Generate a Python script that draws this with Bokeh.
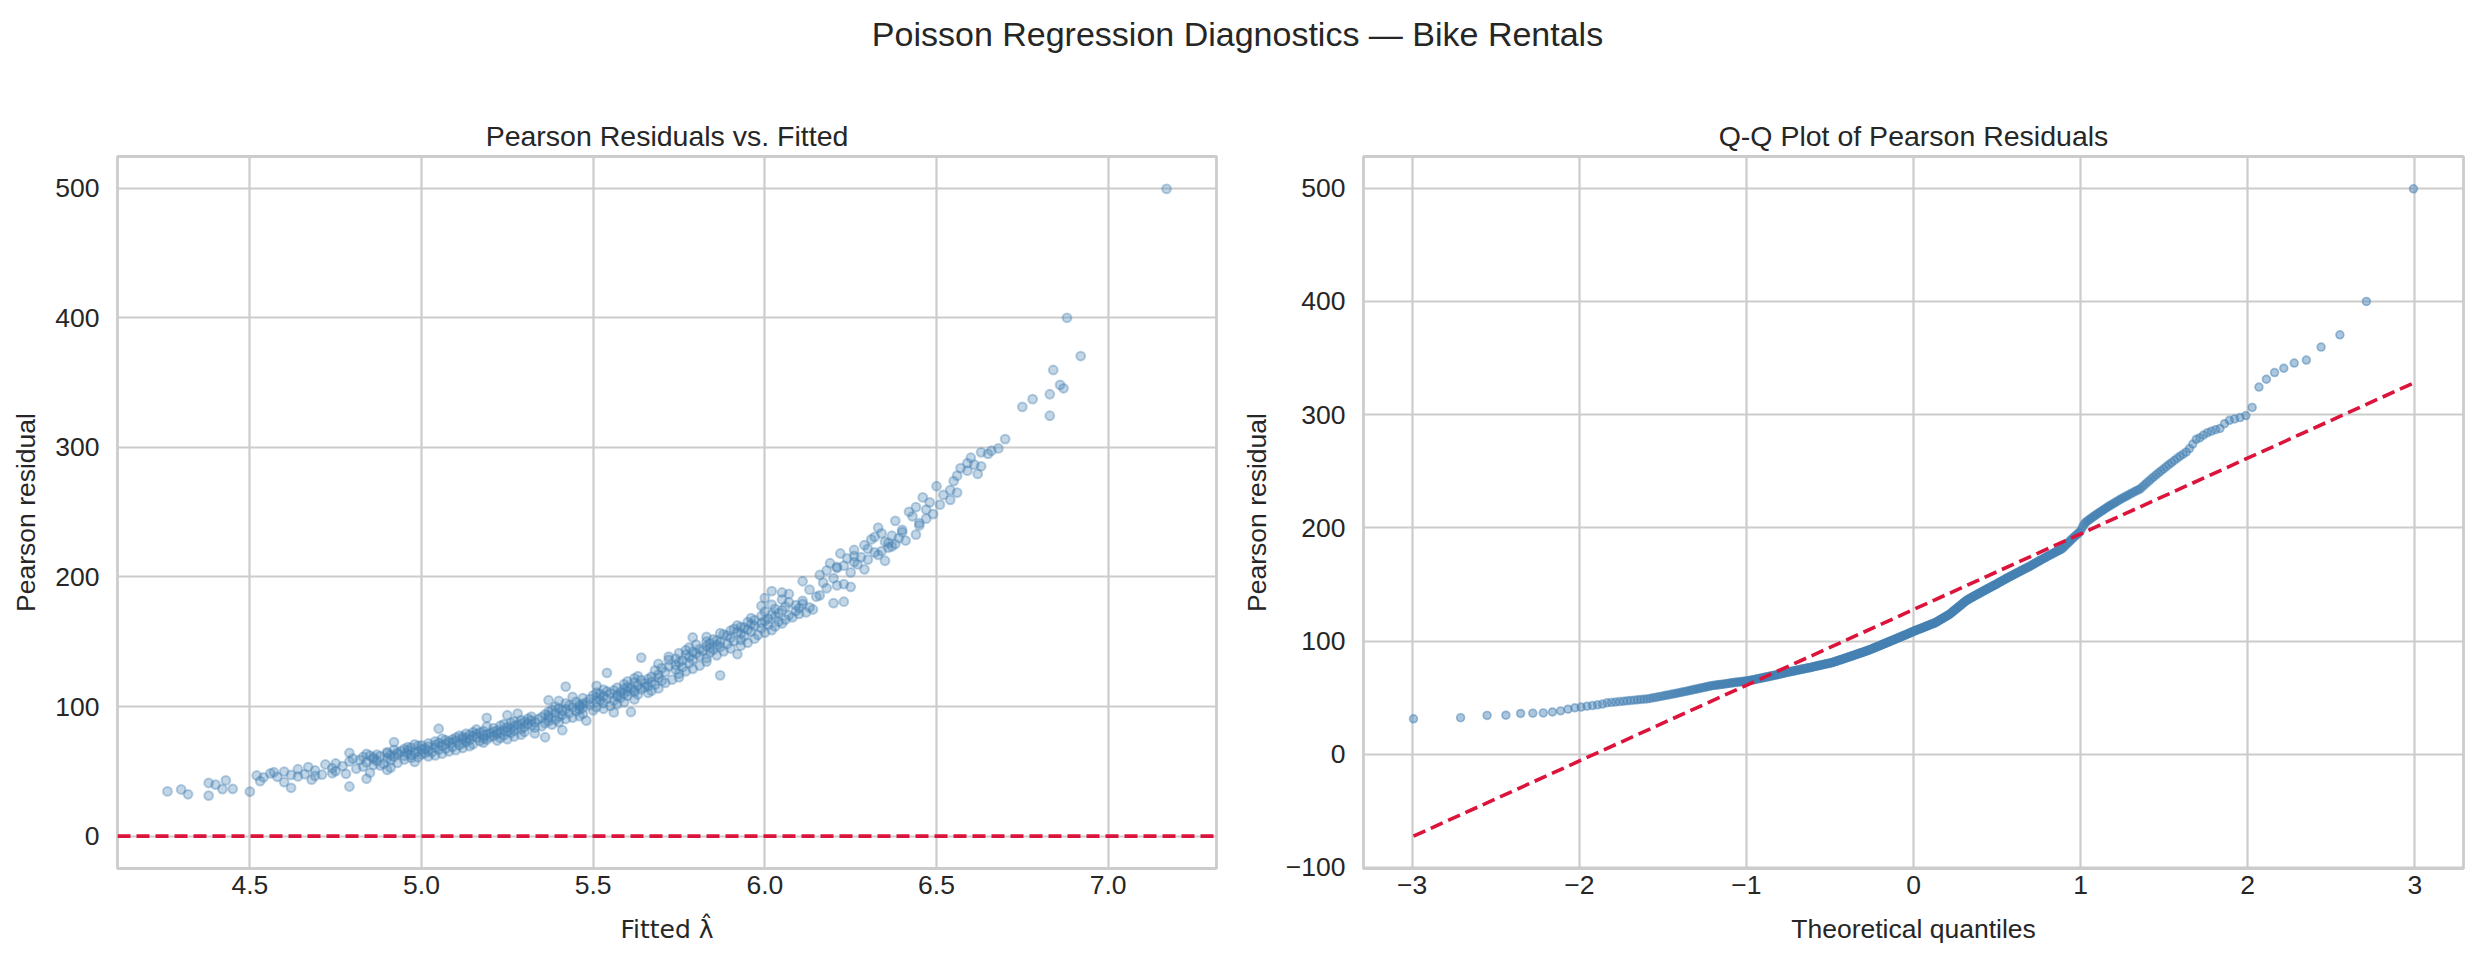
from statistics import NormalDist

from bokeh.plotting import figure
from bokeh.layouts import column, row
from bokeh.models import (Range1d, SingleIntervalTicker, NumeralTickFormatter,
                          CustomJSTickFormatter, Span)
from bokeh.embed import file_html
from bokeh.resources import INLINE

# ---------------------------------------------------------------- data
# Pearson residuals (sorted ascending)
residual = [
    31.3, 32.3, 34.3, 34.5, 36.0, 36.3, 36.5, 37.3, 38.3, 39.8, 41.0, 41.7, 42.4,
    43.0, 43.6, 44.3, 45.4, 45.8, 46.1, 46.5, 46.8, 47.2, 47.5, 47.8, 48.1, 48.4, 48.6, 48.9,
    49.3, 49.8, 50.2, 50.7, 51.1, 51.6, 52.0, 52.4, 52.9, 53.3, 53.7, 54.1, 54.5,
    54.9, 55.3, 55.7, 56.1, 56.5, 56.9, 57.3, 57.6, 58.0, 58.4, 58.8, 59.1, 59.5, 59.8, 60.2, 60.5,
    60.7, 60.9, 61.1, 61.3, 61.5, 61.7, 61.9, 62.1, 62.3, 62.5, 62.7, 62.9, 63.1, 63.3, 63.5, 63.6,
    63.8, 63.9, 64.1, 64.2, 64.4, 64.5,
    64.7, 64.9, 65.2, 65.4, 65.6, 65.9, 66.1, 66.3, 66.6, 66.8, 67.0, 67.3, 67.5, 67.7, 68.0, 68.2,
    68.4, 68.7, 68.9, 69.1, 69.4, 69.6, 69.8, 70.1, 70.3, 70.5, 70.8, 71.0, 71.2, 71.5, 71.7, 71.9,
    72.2, 72.4, 72.6, 72.8, 73.0,
    73.2, 73.4, 73.6, 73.8, 74.0, 74.2, 74.4, 74.6, 74.8, 75.0, 75.2, 75.4, 75.6, 75.8, 76.0, 76.1,
    76.3, 76.5, 76.7, 76.9, 77.1, 77.3, 77.5, 77.7, 77.9, 78.1, 78.3, 78.5, 78.7, 78.9, 79.1, 79.3,
    79.5, 79.7, 79.9, 80.0, 80.2, 80.4, 80.6, 80.7,
    81.0, 81.3, 81.5, 81.8, 82.1, 82.3, 82.6, 82.9, 83.2, 83.4, 83.7, 84.0, 84.2, 84.5, 84.8, 85.0,
    85.3, 85.6, 85.9, 86.1, 86.4, 86.7, 86.9, 87.2, 87.5, 87.7, 88.0, 88.3, 88.6, 88.8, 89.1, 89.4,
    89.6, 89.9, 90.2, 90.4, 90.7, 91.0, 91.3, 91.5, 91.8, 92.1, 92.3, 92.6, 93.0,
    93.3, 93.6, 94.0, 94.3, 94.6, 94.9, 95.2, 95.5, 95.8, 96.1, 96.4, 96.8, 97.1, 97.4, 97.7, 98.0,
    98.3, 98.6, 98.9, 99.3, 99.6, 99.9, 100.2, 100.5, 100.8, 101.1, 101.4, 101.8, 102.1, 102.4,
    102.7, 103.0, 103.3, 103.6, 103.9, 104.3, 104.6, 104.9, 105.2, 105.5, 105.8, 106.1, 106.5,
    106.8, 107.1, 107.4, 107.7, 108.0, 108.4,
    108.7, 109.0, 109.3, 109.6, 109.9, 110.2, 110.5, 110.7, 111.0, 111.3, 111.6, 111.9, 112.2,
    112.5, 112.8, 113.1, 113.4, 113.7, 114.0, 114.3, 114.6, 114.9, 115.2, 115.4, 115.7, 116.0,
    116.4, 116.9, 117.3, 117.8, 118.2, 118.6, 119.1, 119.5, 120.0, 120.4, 120.8, 121.3, 121.7,
    122.2, 122.6, 123.1, 123.5,
    124.1, 124.7, 125.4, 126.0, 126.6, 127.2, 127.9, 128.5, 129.1, 129.7, 130.4, 131.0, 131.6,
    132.2, 132.9, 133.5, 134.1, 134.7, 135.4, 136.0,
    136.4, 136.9, 137.3, 137.8, 138.2, 138.6, 139.1, 139.5, 140.0, 140.4, 140.8, 141.3, 141.7,
    142.1, 142.6, 143.0, 143.5, 143.9, 144.3, 144.8, 145.2, 145.7, 146.1, 146.5, 147.0, 147.4,
    147.8, 148.3, 148.7, 149.2, 149.6, 150.0, 150.5, 151.0,
    151.5, 151.9, 152.4, 152.9, 153.3, 153.8, 154.3, 154.8, 155.2, 155.7, 156.2, 156.6, 157.1,
    157.6, 158.0, 158.5, 159.0, 159.4, 159.9, 160.4, 160.8, 161.3, 161.8, 162.3, 162.7, 163.2,
    163.7, 164.1, 164.6, 165.1, 165.5, 166.0,
    166.6, 167.1, 167.7, 168.2, 168.8, 169.3, 169.9, 170.4, 171.0, 171.5, 172.1, 172.6, 173.2,
    173.7, 174.3, 174.9, 175.4, 176.0, 176.5, 177.1, 177.6, 178.2, 178.7, 179.3, 179.8, 180.4,
    180.9, 181.5,
    182.6, 183.7, 184.8, 185.8, 186.9, 188.0, 189.1, 190.2, 191.3, 192.4, 193.5, 194.5, 195.6, 196.7,
    199.0, 201.5, 203.5, 205.0,
    205.9, 206.9, 207.8, 208.7, 209.7, 210.6, 211.5, 212.5, 213.4, 214.3, 215.3, 216.2, 217.1,
    218.1, 219.0,
    219.9, 220.8, 221.7, 222.6, 223.6, 224.5, 225.4, 226.3, 227.2, 228.1, 229.0, 229.9, 230.9,
    231.8, 232.7, 233.6, 234.5,
    236.3, 238.0, 239.8, 241.5, 243.3, 245.0, 246.8, 248.5, 250.3, 252.0,
    253.9, 255.8, 257.6, 259.5, 261.4, 263.3, 265.1, 267.0,
    270.0, 274.0, 278.2, 279.5, 282.0, 284.0, 285.4, 286.7, 287.8, 292.0, 295.0, 296.2, 297.4, 299.2,
    306.4, 324.4, 331.3, 337.2, 341.0, 345.6, 348.2, 359.7, 370.5, 400.0, 499.5,
]

# Fitted lambda-hat for each residual above (same order)
fitted = [
    4.38, 4.32, 4.50, 4.26, 4.30, 4.42, 4.45, 4.62, 4.79, 4.40, 4.38, 4.60, 4.53,
    4.43, 4.68, 4.84, 4.54, 4.58, 4.64, 4.69, 4.52, 4.62, 4.71, 4.66, 4.78, 4.56, 4.74, 4.85,
    4.57, 4.60, 4.75, 4.69, 4.90, 4.64, 4.81, 4.74, 4.91, 4.67, 4.83, 4.77, 4.88,
    4.86, 4.72, 4.89, 4.75, 4.93, 4.84, 4.98, 4.79, 4.87, 4.91, 4.82, 4.95, 4.86, 4.80, 4.90, 4.97,
    4.86, 4.99, 4.83, 4.92, 5.02, 4.88, 4.95, 4.85, 5.04, 4.91, 4.97, 4.87, 5.00, 4.93, 4.84, 5.06,
    4.96, 4.90, 5.01, 4.79, 4.98, 4.93,
    5.03, 4.90, 4.99, 5.08, 4.94, 5.02, 4.96, 5.10, 4.92, 5.05, 5.00, 4.95, 5.07, 5.01, 5.12, 4.97,
    5.04, 4.96, 5.09, 5.02, 5.14, 4.99, 5.06, 5.00, 5.11, 5.04, 4.98, 5.15, 5.07, 5.02, 5.12, 5.05,
    5.18, 5.09, 4.92, 5.13, 5.08,
    5.04, 5.17, 5.10, 5.22, 5.07, 5.14, 5.19, 5.09, 5.25, 5.12, 5.06, 5.18, 5.13, 5.23, 5.10, 5.16,
    5.36, 5.20, 5.12, 5.27, 5.15, 5.21, 5.11, 5.18, 5.24, 5.14, 5.29, 5.19, 5.16, 5.22, 5.13, 5.33,
    5.20, 5.26, 5.17, 5.23, 5.15, 5.30, 5.21, 5.25,
    5.18, 5.27, 5.22, 5.41, 5.24, 5.16, 5.29, 5.05, 5.26, 5.21, 5.33, 5.25, 5.30, 5.19, 5.35, 5.27,
    5.23, 5.32, 5.28, 5.38, 5.24, 5.31, 5.29, 5.36, 5.26, 5.33, 5.40, 5.30, 5.27, 5.37, 5.48, 5.32,
    5.29, 5.39, 5.34, 5.42, 5.31, 5.37, 5.19, 5.44, 5.35, 5.40, 5.32, 5.46, 5.37,
    5.25, 5.41, 5.36, 5.47, 5.28, 5.43, 5.39, 5.56, 5.61, 5.37, 5.45, 5.41, 5.50, 5.38, 5.46, 5.42,
    5.53, 5.40, 5.47, 5.44, 5.51, 5.39, 5.46, 5.55, 5.43, 5.49, 5.46, 5.57, 5.47, 5.42,
    5.53, 5.48, 5.59, 5.45, 5.51, 5.40, 5.56, 5.37, 5.52, 5.62, 5.49, 5.54, 5.47,
    5.58, 5.51, 5.44, 5.57, 5.53, 5.60,
    5.50, 5.57, 5.63, 5.52, 5.59, 5.55, 5.66, 5.51, 5.58, 5.62, 5.54, 5.60, 5.67,
    5.56, 5.62, 5.53, 5.64, 5.59, 5.69, 5.61, 5.57, 5.65, 5.60, 5.42, 5.66, 5.51,
    5.63, 5.68, 5.59, 5.65, 5.71, 5.62, 5.67, 5.60, 5.70, 5.64, 5.73, 5.66, 5.62,
    5.69, 5.75, 5.67, 5.63,
    5.87, 5.69, 5.75, 5.54, 5.71, 5.77, 5.68, 5.74, 5.79, 5.70, 5.76, 5.72, 5.81,
    5.74, 5.69, 5.78, 5.75, 5.83, 5.76, 5.72,
    5.79, 5.74, 5.83, 5.64, 5.78, 5.72, 5.81, 5.86, 5.77, 5.92, 5.80, 5.75, 5.84,
    5.79, 5.88, 5.82, 5.77, 5.85, 5.81, 5.90, 5.84, 5.78, 5.87, 5.83, 5.93, 5.86,
    5.80, 5.89, 5.84, 5.95, 5.87, 5.83, 5.91, 5.86,
    5.93, 5.85, 5.97, 5.90, 5.79, 5.83, 5.94, 5.89, 5.98, 5.88, 5.93, 5.87, 6.00,
    5.92, 5.96, 5.90, 6.02, 5.95, 5.91, 5.99, 5.94, 5.93, 6.03, 5.97, 5.92, 6.01,
    5.96, 6.05, 5.99, 5.95, 6.04, 6.00,
    5.97, 6.06, 6.01, 5.96, 6.08, 6.03, 5.99, 6.07, 6.02, 6.10, 6.04, 6.12, 6.00,
    6.09, 6.05, 6.14, 6.03, 6.10, 6.13, 6.06, 5.99, 6.09, 6.02, 6.11, 6.20, 6.07,
    6.23, 6.11,
    6.05, 6.00, 6.15, 6.16, 6.07, 6.05, 6.02, 6.13, 6.18, 6.25, 6.21, 6.23, 6.17, 6.11,
    6.20, 6.16, 6.25, 6.18,
    6.29, 6.21, 6.21, 6.23, 6.27, 6.19, 6.26, 6.35, 6.30, 6.24, 6.28, 6.26, 6.33,
    6.22, 6.32,
    6.34, 6.26, 6.30, 6.36, 6.37, 6.29, 6.38, 6.36, 6.35, 6.41, 6.31, 6.39, 6.32,
    6.37, 6.44, 6.34, 6.40,
    6.40, 6.33, 6.45, 6.45, 6.38, 6.47, 6.43, 6.49, 6.42, 6.47,
    6.44, 6.51, 6.48, 6.54, 6.46, 6.52, 6.56, 6.54,
    6.50, 6.55, 6.56, 6.62, 6.59, 6.57, 6.63, 6.61, 6.59, 6.60, 6.65, 6.63, 6.66, 6.68,
    6.70, 6.83, 6.75, 6.78, 6.83, 6.87, 6.86, 6.84, 6.92, 6.88, 7.17,
]

zero_level = 0.0            # reference line of the left panel
qq_fit_slope = 66.9
qq_fit_intercept = 127.8

suptitle = "Poisson Regression Diagnostics \u2014 Bike Rentals"
left_title = "Pearson Residuals vs. Fitted"
right_title = "Q-Q Plot of Pearson Residuals"
left_xlabel = "Fitted \u03bb\u0302"
right_xlabel = "Theoretical quantiles"
ylabel = "Pearson residual"

# ---------------------------------------------------------------- derived
n = min(len(residual), len(fitted))
res = residual[:n]
fit = fitted[:n]

res_sorted = sorted(res)
mn = 0.5 ** (1.0 / n)
probs = [(i - 0.3175) / (n + 0.365) for i in range(1, n + 1)]
probs[0] = 1.0 - mn
probs[-1] = mn
nd = NormalDist()
theo = [nd.inv_cdf(pv) for pv in probs]
line_x = [theo[0], theo[-1]]
line_y = [qq_fit_slope * v + qq_fit_intercept for v in line_x]


def padded(lo, hi, frac=0.05):
    d = (hi - lo) * frac
    return Range1d(lo - d, hi + d)


# ---------------------------------------------------------------- style
FONT = "Liberation Sans"
INK = "#262626"
EDGE = "#cccccc"
BLUE = "#4682b4"
RED = "#dc143c"
TOTAL_W = 2474


def styled(title, xr, yr, xlabel, left_border, right_border, frame_w):
    p = figure(frame_width=frame_w, frame_height=712, x_range=xr, y_range=yr,
               toolbar_location=None, output_backend="svg",
               min_border_left=left_border, min_border_right=right_border,
               min_border_top=78, min_border_bottom=105)
    p.title.text = title
    p.title.align = "center"
    p.title.text_font = FONT
    p.title.text_font_size = "28.5px"
    p.title.text_font_style = "normal"
    p.title.text_color = INK
    p.title.standoff = 9
    p.background_fill_color = "white"
    p.border_fill_color = "white"
    p.outline_line_color = EDGE
    p.outline_line_width = 2.8
    for ax in p.axis:
        ax.axis_line_color = None
        ax.major_tick_line_color = None
        ax.minor_tick_line_color = None
        ax.major_tick_out = 0
        ax.major_tick_in = 0
        ax.minor_tick_out = 0
        ax.minor_tick_in = 0
        ax.major_label_text_font = FONT
        ax.major_label_text_font_size = "26.5px"
        ax.major_label_text_color = INK
        ax.axis_label_text_font = FONT
        ax.axis_label_text_font_size = "26.5px"
        ax.axis_label_text_font_style = "normal"
        ax.axis_label_text_color = INK
    p.xaxis.major_label_standoff = 7
    p.yaxis.major_label_standoff = 18
    p.yaxis.axis_label_standoff = 11
    p.xaxis.axis_label_standoff = 17
    p.xaxis.axis_label = xlabel
    p.yaxis.axis_label = ylabel
    p.grid.grid_line_color = EDGE
    p.grid.grid_line_width = 2.2
    return p


# ---------------------------------------------------------------- header
head = figure(width=TOTAL_W, height=78, toolbar_location=None, output_backend="svg",
              x_axis_location=None, y_axis_location=None,
              min_border_top=52, min_border_bottom=0, min_border_left=0, min_border_right=0)
head.title.text = suptitle
head.title.align = "center"
head.title.text_font = FONT
head.title.text_font_size = "34px"
head.title.text_font_style = "normal"
head.title.text_color = INK
head.title.standoff = 0
head.grid.visible = False
head.outline_line_color = None
head.background_fill_color = "white"
head.scatter(x=[], y=[])

# ---------------------------------------------------------------- left panel
p1 = styled(left_title,
            padded(min(fit), max(fit)),
            padded(min(min(res), zero_level), max(res)),
            left_xlabel, 117, 22, 1099)
p1.xaxis.axis_label_standoff = 18
p1.xaxis.axis_label_text_font = "DejaVu Sans"
p1.xaxis.axis_label_text_font_size = "25px"
p1.xaxis.ticker = SingleIntervalTicker(interval=0.5)
p1.xaxis.formatter = NumeralTickFormatter(format="0.0")
p1.yaxis.ticker = SingleIntervalTicker(interval=100)
p1.xgrid.ticker = p1.xaxis.ticker
p1.ygrid.ticker = p1.yaxis.ticker
p1.scatter(fit, res, size=8.8, fill_color=BLUE, fill_alpha=0.33,
           line_color=BLUE, line_alpha=0.38, line_width=2.0)
p1.add_layout(Span(location=zero_level, dimension="width", line_color=RED,
                   line_width=3.6, line_dash="13 6"))

# ---------------------------------------------------------------- right panel
minus_code = "return (tick < 0 ? '\u2212' : '') + Math.abs(tick).toFixed(0);"
p2 = styled(right_title,
            padded(theo[0], theo[-1]),
            padded(min(res_sorted[0], min(line_y)), max(res_sorted[-1], max(line_y))),
            right_xlabel, 120, TOTAL_W - 1238 - 120 - 1100, 1100)
p2.xaxis.ticker = SingleIntervalTicker(interval=1)
p2.yaxis.ticker = SingleIntervalTicker(interval=100)
p2.xaxis.formatter = CustomJSTickFormatter(code=minus_code)
p2.yaxis.formatter = CustomJSTickFormatter(code=minus_code)
p2.xgrid.ticker = p2.xaxis.ticker
p2.ygrid.ticker = p2.yaxis.ticker
p2.scatter(theo, res_sorted, size=7.8, fill_color=BLUE, fill_alpha=0.45,
           line_color=BLUE, line_alpha=0.5, line_width=1.7)
p2.line(line_x, line_y, line_color=RED, line_width=3.6, line_dash="13 6")

layout = column(head, row(p1, p2))

with open("out.html", "w", encoding="utf-8") as f:
    f.write(file_html(layout, INLINE, title="Poisson Regression Diagnostics"))
